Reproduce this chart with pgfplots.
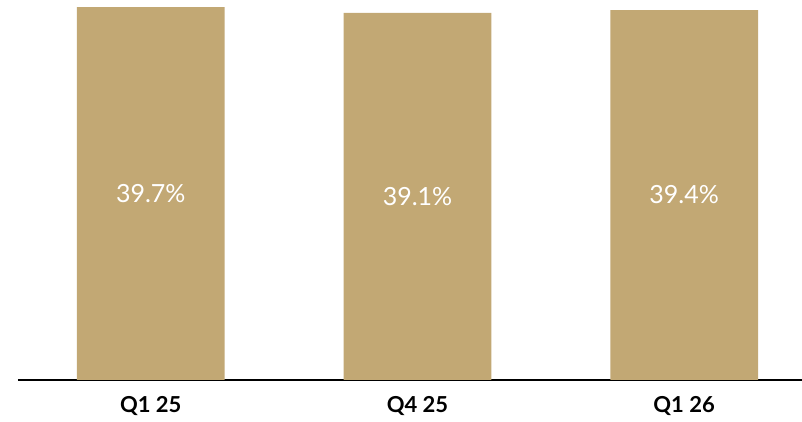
\documentclass[border=0pt]{standalone}
\usepackage{pgfplots}
\pgfplotsset{compat=1.18}
\usepackage{fontspec}
\setmainfont{Lato}
\definecolor{bargold}{HTML}{C2A874}
\begin{document}
\begin{tikzpicture}
\begin{axis}[
  at={(0pt,0pt)}, anchor=south west,
  scale only axis,
  width=784pt, height=380pt,
  ybar, bar width=0.554,
  xmin=-0.498, xmax=2.442,
  ymin=0, ymax=40.47,
  axis x line=bottom, axis y line=none,
  x axis line style={-, line width=1.2pt, black},
  xtick=data, xticklabels={Q1 25, Q4 25, Q1 26},
  xtick style={draw=none},
  xticklabel style={font=\fontsize{22}{26}\selectfont\bfseries, text=black, yshift=-11pt},
  ytick=\empty,
  clip=false,
]
\addplot[fill=bargold, draw=none] coordinates {(0,39.7) (1,39.1) (2,39.4)};
\node[text=white, font=\fontsize{25}{30}\selectfont] at (axis cs:0,19.85) {39.7\%};
\node[text=white, font=\fontsize{25}{30}\selectfont] at (axis cs:1,19.55) {39.1\%};
\node[text=white, font=\fontsize{25}{30}\selectfont] at (axis cs:2,19.7) {39.4\%};
\end{axis}
\pgfresetboundingbox
\path[use as bounding box] (-18pt,-42pt) rectangle (784pt,380pt);
\end{tikzpicture}
\end{document}
